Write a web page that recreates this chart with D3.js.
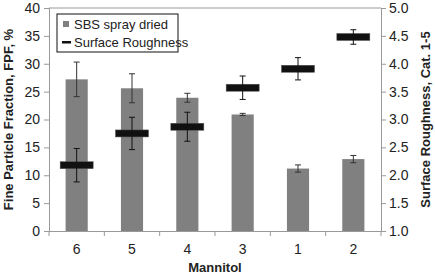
<!DOCTYPE html>
<html>
<head>
<meta charset="utf-8">
<script src="https://cdn.jsdelivr.net/npm/d3@7"></script>
<style>
  body { margin: 0; background: #fff; }
  svg text { font-family: "Liberation Sans", Arial, sans-serif; }
</style>
</head>
<body>
<div id="chart"></div>
<script>
// Chart data
const categories = ['6', '5', '4', '3', '1', '2'];
const fpf = [27.2, 25.6, 23.9, 20.9, 11.2, 12.9];
const fpfErr = [3.1, 2.6, 0.8, 0.2, 0.65, 0.65];
const roughness = [2.18, 2.75, 2.87, 3.57, 3.91, 4.48];
const roughnessErr = [0.3, 0.29, 0.26, 0.21, 0.2, 0.13];
const leftTicks = [0, 5, 10, 15, 20, 25, 30, 35, 40];
const rightTicks = [1.0, 1.5, 2.0, 2.5, 3.0, 3.5, 4.0, 4.5, 5.0];

const W = 435, H = 277;
const margin = { top: 8, right: 54, bottom: 46, left: 49 };
const width = W - margin.left - margin.right;
const height = H - margin.top - margin.bottom;

const svg = d3.select('#chart')
    .append('svg')
    .attr('width', W)
    .attr('height', H)
    .append('g')
    .attr('transform', `translate(${margin.left},${margin.top})`);

const x = d3.scaleBand()
    .domain(categories)
    .range([0, width])
    .padding(0);

const yL = d3.scaleLinear().domain([0, 40]).range([height, 0]);
const yR = d3.scaleLinear().domain([1, 5]).range([height, 0]);

const axisColor = '#999';
const textColor = '#222';

// Plot frame (top line)
svg.append('line')
    .attr('x1', 0).attr('x2', width)
    .attr('y1', 0).attr('y2', 0)
    .attr('stroke', axisColor);

// Left axis
const gL = svg.append('g')
    .call(d3.axisLeft(yL).tickValues(leftTicks).tickSize(5).tickPadding(4));
// Right axis
const gR = svg.append('g')
    .attr('transform', `translate(${width},0)`)
    .call(d3.axisRight(yR).tickValues(rightTicks).tickSize(5).tickPadding(3)
        .tickFormat(d3.format('.1f')));
// Bottom axis with ticks at band boundaries
const gB = svg.append('g')
    .attr('transform', `translate(0,${height})`)
    .call(d3.axisBottom(x).tickSize(0).tickPadding(13));

svg.append('g')
    .selectAll('line')
    .data(categories.concat(['end']))
    .enter()
    .append('line')
    .attr('x1', (d, i) => i * x.step())
    .attr('x2', (d, i) => i * x.step())
    .attr('y1', height)
    .attr('y2', height + 5)
    .attr('stroke', axisColor);

[gL, gR, gB].forEach(g => {
    g.selectAll('path.domain').attr('stroke', axisColor);
    g.selectAll('.tick line').attr('stroke', axisColor);
    g.selectAll('text')
        .style('font-size', '14px')
        .style('fill', textColor);
});

// Bars
const barW = x.bandwidth() * 0.4;
svg.selectAll('.bar')
    .data(fpf)
    .enter()
    .append('rect')
    .attr('class', 'bar')
    .attr('x', (d, i) => x(categories[i]) + (x.bandwidth() - barW) / 2)
    .attr('y', d => yL(d))
    .attr('width', barW)
    .attr('height', d => height - yL(d))
    .attr('fill', '#808080');

// Error bars helper
function errorBars(values, errs, scale, color) {
    const g = svg.append('g');
    values.forEach((v, i) => {
        const cx = x(categories[i]) + x.bandwidth() / 2;
        const y1 = scale(v + errs[i]);
        const y2 = scale(v - errs[i]);
        g.append('line')
            .attr('x1', cx).attr('x2', cx)
            .attr('y1', y1).attr('y2', y2)
            .attr('stroke', color);
        [y1, y2].forEach(yy => {
            g.append('line')
                .attr('x1', cx - 3).attr('x2', cx + 3)
                .attr('y1', yy).attr('y2', yy)
                .attr('stroke', color);
        });
    });
}

errorBars(fpf, fpfErr, yL, '#333');

// Roughness markers
const markW = 33, markH = 7;
svg.selectAll('.mark')
    .data(roughness)
    .enter()
    .append('rect')
    .attr('class', 'mark')
    .attr('x', (d, i) => x(categories[i]) + x.bandwidth() / 2 - markW / 2)
    .attr('y', d => yR(d) - markH / 2)
    .attr('width', markW)
    .attr('height', markH)
    .attr('fill', '#111')
    .attr('stroke', '#555')
    .attr('stroke-width', 0.5);

errorBars(roughness, roughnessErr, yR, '#111');

// Legend
const legend = svg.append('g')
    .attr('transform', 'translate(8,6)');
legend.append('rect')
    .attr('width', 121)
    .attr('height', 38)
    .attr('fill', '#fff')
    .attr('stroke', '#111');
legend.append('rect')
    .attr('x', 6).attr('y', 7)
    .attr('width', 6).attr('height', 6)
    .attr('fill', '#808080');
legend.append('text')
    .attr('x', 17).attr('y', 15)
    .style('font-size', '13px')
    .style('fill', textColor)
    .text('SBS spray dried');
legend.append('rect')
    .attr('x', 5).attr('y', 27)
    .attr('width', 9).attr('height', 2.5)
    .attr('fill', '#111');
legend.append('text')
    .attr('x', 17).attr('y', 33)
    .style('font-size', '13px')
    .style('fill', textColor)
    .text('Surface Roughness');

// Axis titles
svg.append('text')
    .attr('transform', `translate(${-margin.left + 13},${height / 2}) rotate(-90)`)
    .attr('text-anchor', 'middle')
    .style('font-size', '13px')
    .style('font-weight', 'bold')
    .style('fill', textColor)
    .text('Fine Particle Fraction, FPF, %');

svg.append('text')
    .attr('transform', `translate(${width + 49},${height / 2}) rotate(-90)`)
    .attr('text-anchor', 'middle')
    .style('font-size', '13px')
    .style('font-weight', 'bold')
    .style('fill', textColor)
    .text('Surface Roughness, Cat. 1-5');

svg.append('text')
    .attr('x', width / 2)
    .attr('y', height + 41)
    .attr('text-anchor', 'middle')
    .style('font-size', '13px')
    .style('font-weight', 'bold')
    .style('fill', textColor)
    .text('Mannitol');
</script>
</body>
</html>
